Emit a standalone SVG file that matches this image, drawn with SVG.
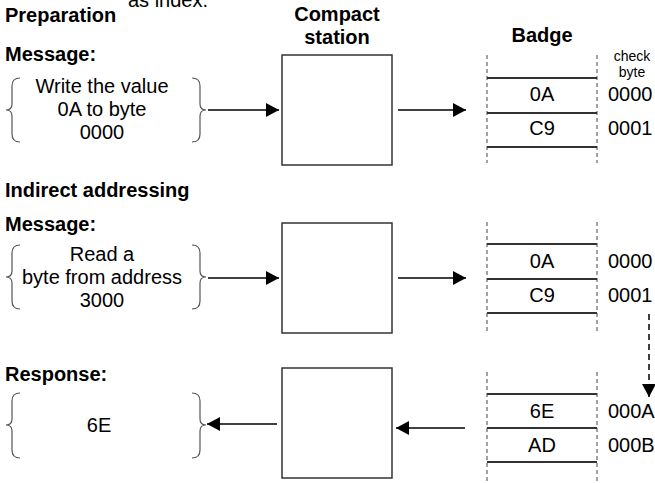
<svg xmlns="http://www.w3.org/2000/svg" width="655" height="483" viewBox="0 0 655 483">
<style>
text{font-family:"Liberation Sans",Arial,sans-serif;fill:#000;}
.h{font-size:20px;font-weight:bold;}
.t{font-size:20px;}
.s{font-size:14px;}
.c{text-anchor:middle;}
.brace{fill:none;stroke:#555;stroke-width:1.2;}
.box{fill:#fff;stroke:#333;stroke-width:1.5;}
.row{stroke:#333;stroke-width:2;}
.vd{stroke:#444;stroke-width:1;stroke-dasharray:4,3;}
.arr{stroke:#000;stroke-width:1.5;fill:none;marker-end:url(#ah);}
.darr{stroke:#000;stroke-width:1.5;fill:none;stroke-dasharray:6,4;marker-end:url(#ah);}
</style>
<defs>
<marker id="ah" markerUnits="userSpaceOnUse" markerWidth="15" markerHeight="16" refX="13" refY="7" orient="auto">
<path d="M0,0 L13,7 L0,14 z" fill="#000"/>
</marker>
</defs>
<rect width="655" height="483" fill="#fff"/>

<g id="headings">
<text class="t" x="128" y="7">as index.</text>
<text class="h" x="5" y="22">Preparation</text>
<text class="h" x="5" y="61">Message:</text>
<text class="h" x="5" y="197">Indirect addressing</text>
<text class="h" x="5" y="231">Message:</text>
<text class="h" x="5" y="381">Response:</text>
<text class="h c" x="337" y="21">Compact</text>
<text class="h c" x="337" y="44">station</text>
<text class="h c" x="542" y="42">Badge</text>
</g>

<g id="msg1">
<path class="brace" d="M20,78 Q12,78 12,86 L12,104 Q12,110 6,110 Q12,110 12,116 L12,134 Q12,142 20,142"/>
<path class="brace" d="M192,78 Q200,78 200,86 L200,104 Q200,110 206,110 Q200,110 200,116 L200,134 Q200,142 192,142"/>
<text class="t c" x="102" y="93">Write the value</text>
<text class="t c" x="102" y="116">0A to byte</text>
<text class="t c" x="102" y="139">0000</text>
</g>

<g id="msg2">
<path class="brace" d="M20,245 Q12,245 12,253 L12,271 Q12,277 6,277 Q12,277 12,283 L12,301 Q12,309 20,309"/>
<path class="brace" d="M192,245 Q200,245 200,253 L200,271 Q200,277 206,277 Q200,277 200,283 L200,301 Q200,309 192,309"/>
<text class="t c" x="102" y="261">Read a</text>
<text class="t c" x="102" y="284">byte from address</text>
<text class="t c" x="102" y="307">3000</text>
</g>

<g id="resp">
<path class="brace" d="M20,393 Q12,393 12,401 L12,419 Q12,425 6,425 Q12,425 12,431 L12,450 Q12,458 20,458"/>
<path class="brace" d="M192,393 Q200,393 200,401 L200,419 Q200,425 206,425 Q200,425 200,431 L200,450 Q200,458 192,458"/>
<text class="t c" x="99" y="432">6E</text>
</g>

<g id="station1"><rect class="box" x="282" y="55" width="110" height="110"/></g>
<g id="station2"><rect class="box" x="282" y="223" width="110" height="110"/></g>
<g id="station3"><rect class="box" x="282" y="368" width="110" height="110"/></g>

<g id="badge1">
<line class="vd" x1="487" y1="55" x2="487" y2="163"/>
<line class="vd" x1="597" y1="55" x2="597" y2="163"/>
<line class="row" x1="487" y1="78" x2="597" y2="78"/>
<line class="row" x1="487" y1="113" x2="597" y2="113"/>
<line class="row" x1="487" y1="147" x2="597" y2="147"/>
<text class="t c" x="542" y="101">0A</text>
<text class="t c" x="542" y="135">C9</text>
<text class="s c" x="632" y="61">check</text>
<text class="s c" x="632" y="77">byte</text>
<text class="t" x="608" y="101">0000</text>
<text class="t" x="608" y="135">0001</text>
</g>

<g id="badge2">
<line class="vd" x1="487" y1="222" x2="487" y2="332"/>
<line class="vd" x1="597" y1="222" x2="597" y2="332"/>
<line class="row" x1="487" y1="244" x2="597" y2="244"/>
<line class="row" x1="487" y1="279" x2="597" y2="279"/>
<line class="row" x1="487" y1="313" x2="597" y2="313"/>
<text class="t c" x="542" y="268">0A</text>
<text class="t c" x="542" y="302">C9</text>
<text class="t" x="608" y="268">0000</text>
<text class="t" x="608" y="302">0001</text>
</g>

<g id="badge3">
<line class="vd" x1="487" y1="372" x2="487" y2="483"/>
<line class="vd" x1="597" y1="372" x2="597" y2="483"/>
<line class="row" x1="487" y1="394" x2="597" y2="394"/>
<line class="row" x1="487" y1="428" x2="597" y2="428"/>
<line class="row" x1="487" y1="462" x2="597" y2="462"/>
<text class="t c" x="542" y="418">6E</text>
<text class="t c" x="542" y="452">AD</text>
<text class="t" x="608" y="418">000A</text>
<text class="t" x="608" y="452">000B</text>
</g>

<g id="connectors">
<line class="arr" x1="208" y1="110" x2="279" y2="110"/>
<line class="arr" x1="398" y1="110" x2="466" y2="110"/>
<line class="arr" x1="208" y1="278" x2="279" y2="278"/>
<line class="arr" x1="398" y1="278" x2="466" y2="278"/>
<line class="arr" x1="465" y1="428" x2="396" y2="428"/>
<line class="arr" x1="277" y1="424" x2="207" y2="424"/>
<line class="darr" x1="649" y1="314" x2="649" y2="397"/>
</g>
</svg>
